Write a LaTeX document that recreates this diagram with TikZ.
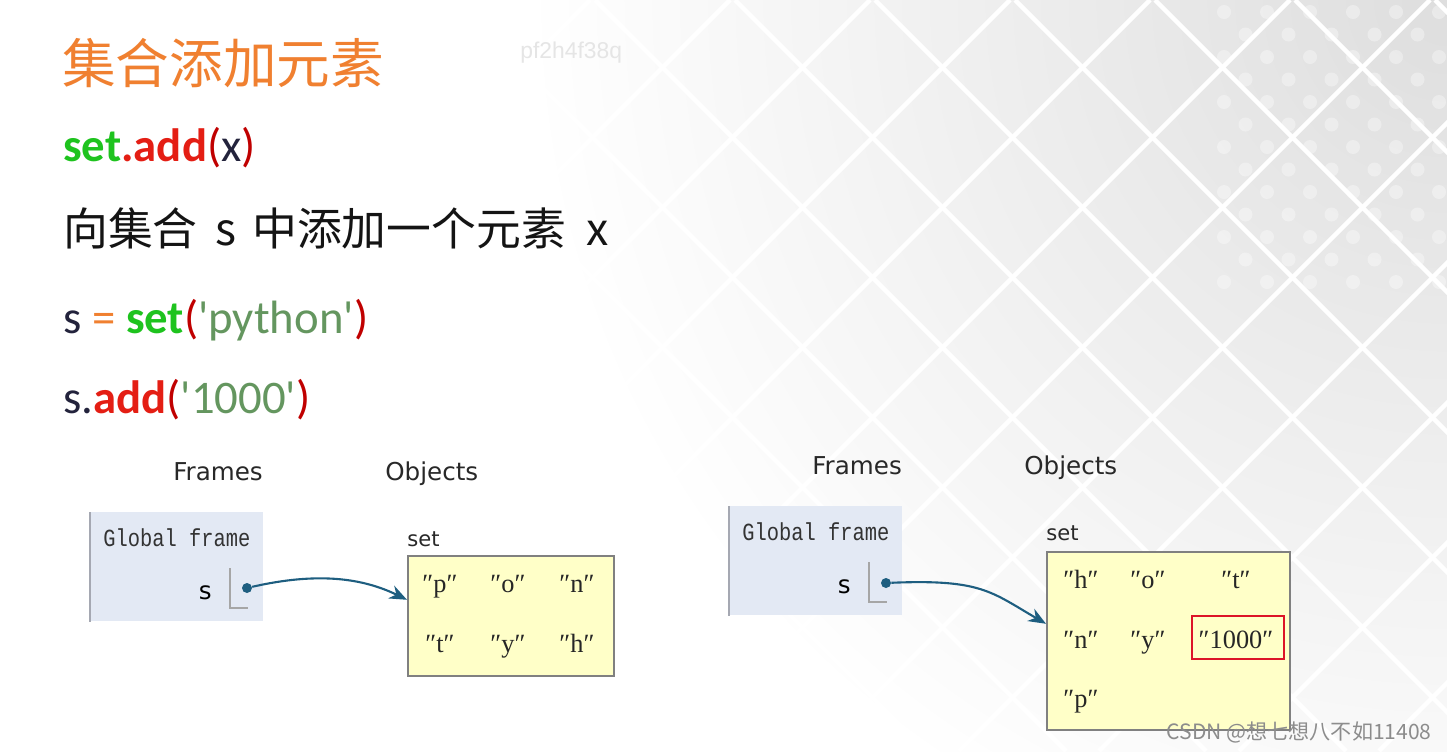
\documentclass[tikz,border=0pt]{standalone}
\usepackage{fontspec}
\setmainfont{Carlito}
\newfontfamily\cjk{Noto Sans CJK SC}
\newfontfamily\tutorsans{DejaVu Sans}
\newfontfamily\tutormono{Liberation Mono}[FakeStretch=0.83]
\newfontfamily\tutorserif{Liberation Serif}
\newfontfamily\marksans{Liberation Sans}
\usetikzlibrary{arrows.meta}

\definecolor{titleorange}{RGB}{240,128,48}
\definecolor{kwgreen}{RGB}{30,195,30}
\definecolor{kwred}{RGB}{228,30,20}
\definecolor{parenred}{RGB}{192,0,0}
\definecolor{navy}{RGB}{35,35,60}
\definecolor{strgreen}{RGB}{100,150,95}
\definecolor{tutordark}{RGB}{40,40,40}
\definecolor{framefill}{RGB}{227,233,244}
\definecolor{frameedge}{RGB}{165,168,178}
\definecolor{ptrblue}{RGB}{30,94,128}
\definecolor{setfill}{RGB}{255,255,200}
\definecolor{setborder}{RGB}{128,128,128}
\definecolor{hlred}{RGB}{220,20,40}

\tikzset{
    slidetext/.style={anchor=base west, inner sep=0pt},
    tutorlabel/.style={anchor=base west, inner sep=0pt, text=tutordark,
        font=\tutorsans\fontsize{14pt}{16pt}\selectfont},
    framebox/.style={anchor=north west, fill=framefill, inner sep=0pt,
        minimum width=3.46cm, minimum height=2.18cm},
    setbox/.style={anchor=north west, fill=setfill, draw=setborder, line width=0.9pt, inner sep=0pt},
    elem/.style={anchor=base, inner sep=0pt, text=black!85,
        font=\tutorserif\fontsize{15pt}{17pt}\selectfont},
    ptrdot/.style={circle, fill=ptrblue, inner sep=0pt, minimum size=0.2cm},
    pointer/.style={ptrblue, line width=1.2pt, -{Stealth[length=10pt,width=8pt]}},
}

\begin{document}
\begin{tikzpicture}[x=0.02cm, y=-0.02cm]
    \useasboundingbox (0,0) rectangle (1447,751);

    % background tiles
    \begin{scope}
        \clip (0,0) rectangle (1447,751);
        \fill[white] (0,0) rectangle (1447,751);
        \shade[inner color=black!13, outer color=white] (1447,0) circle (920);
        \foreach \i in {0,...,5}
            \foreach \j in {0,...,12}
                \fill[white, opacity=0.35] ({1224+43*\i+21.5*mod(\j,2)},{12+22.5*\j}) circle (7);
        \foreach \c in {-10,...,5}
            \draw[white, line width=2.5pt] (1430+140*\c,0) -- (679+140*\c,751);
        \foreach \c in {-15,...,2}
            \draw[white, line width=2.5pt] (1295+140*\c,0) -- (2046+140*\c,751);
    \end{scope}

    \node[anchor=base west, inner sep=0pt, text=black!10, font=\marksans\fontsize{13pt}{15pt}\selectfont] (mark) at (520,58) {pf2h4f38q};

    % slide text
    \node[slidetext, text=titleorange, font=\cjk\fontsize{30.5pt}{36pt}\selectfont] (title) at (62,83) {集合添加元素};
    \node[slidetext, font=\fontsize{26.6pt}{32pt}\selectfont] (syntax) at (63,161)
        {\textbf{\color{kwgreen}set}\textbf{\color{kwred}.add}{\color{parenred}(}{\color{navy}x}{\color{parenred})}};
    \node[slidetext, text=black!92, font=\cjk\fontsize{25.5pt}{30pt}\selectfont] (desc) at (63,245)
        {向集合\hspace{0.4em}s\hspace{0.35em}中添加一个元素\hspace{0.45em}x};
    \node[slidetext, font=\fontsize{26.6pt}{32pt}\selectfont] (code1) at (63,333)
        {{\color{navy}s} {\color{titleorange}=} \textbf{\color{kwgreen}set}{\color{parenred}(}{\color{strgreen}\textquotesingle python\textquotesingle}{\color{parenred})}};
    \node[slidetext, font=\fontsize{26.6pt}{32pt}\selectfont] (code2) at (63,413)
        {{\color{navy}s.}\textbf{\color{kwred}add}{\color{parenred}(}{\color{strgreen}\textquotesingle 1000\textquotesingle}{\color{parenred})}};

    % before: s = set('python')
    \begin{scope}
        \node[tutorlabel] (framesA) at (173,480) {Frames};
        \node[tutorlabel] (objectsA) at (385,480) {Objects};
        \node[framebox] (gframeA) at (90,512) {};
        \draw[frameedge, line width=1pt] (gframeA.north west) -- (gframeA.south west);
        \node[anchor=base west, inner sep=0pt, text=black!80, font=\tutormono\fontsize{14pt}{16pt}\selectfont] (gnameA) at (103,546) {Global frame};
        \node[anchor=base east, inner sep=0pt, text=black, font=\tutorsans\fontsize{14pt}{16pt}\selectfont] (varA) at (212,599) {s};
        \draw[gray!70, line width=0.6pt] (230,568) -- (230,608) -- (248,608);
        \node[ptrdot] (dotA) at (247,588) {};
        \node[anchor=base west, inner sep=0pt, text=tutordark, font=\tutorsans\fontsize{12pt}{14pt}\selectfont] (setlblA) at (407,546) {set};
        \node[setbox, minimum width=4.12cm, minimum height=2.4cm] (setA) at (407,555) {};
        \foreach \ch/\px/\py [count=\i] in {p/440/592, o/508/592, n/577/592, t/440/652, y/508/652, h/577/652}
            \node[elem] (elA\i) at (\px,\py) {″\ch″};
        \draw[pointer] (dotA) .. controls +(70,-16) and +(-45,-22) .. ([yshift=0.32cm]setA.west);
    \end{scope}

    % after: s.add('1000')
    \begin{scope}[shift={(639,-6)}]
        \node[tutorlabel] (framesB) at (173,480) {Frames};
        \node[tutorlabel] (objectsB) at (385,480) {Objects};
        \node[framebox] (gframeB) at (90,512) {};
        \draw[frameedge, line width=1pt] (gframeB.north west) -- (gframeB.south west);
        \node[anchor=base west, inner sep=0pt, text=black!80, font=\tutormono\fontsize{14pt}{16pt}\selectfont] (gnameB) at (103,546) {Global frame};
        \node[anchor=base east, inner sep=0pt, text=black, font=\tutorsans\fontsize{14pt}{16pt}\selectfont] (varB) at (212,599) {s};
        \draw[gray!70, line width=0.6pt] (230,568) -- (230,608) -- (248,608);
        \node[ptrdot] (dotB) at (247,589) {};
        \node[anchor=base west, inner sep=0pt, text=tutordark, font=\tutorsans\fontsize{12pt}{14pt}\selectfont] (setlblB) at (407,546) {set};
        \node[setbox, minimum width=4.86cm, minimum height=3.56cm] (setB) at (407,557) {};
        \foreach \ch/\px/\py [count=\i] in {h/442/594, o/509/594, t/597/594, n/442/654, y/509/654, 1000/597/654, p/442/713}
            \node[elem] (elB\i) at (\px,\py) {″\ch″};
        \node[draw=hlred, line width=1.6pt, inner sep=0pt, minimum width=1.84cm, minimum height=0.86cm] (hlB) at (599,643.5) {};
        \draw[pointer] (dotB) .. controls +(95,-4) and +(-55,-32) .. ([yshift=0.34cm]setB.west);
    \end{scope}

    \node[anchor=base east, inner sep=0pt, text=black!45, font=\cjk\fontsize{12pt}{14pt}\selectfont] (csdn) at (1432,739) {CSDN @想七想八不如11408};
\end{tikzpicture}
\end{document}
